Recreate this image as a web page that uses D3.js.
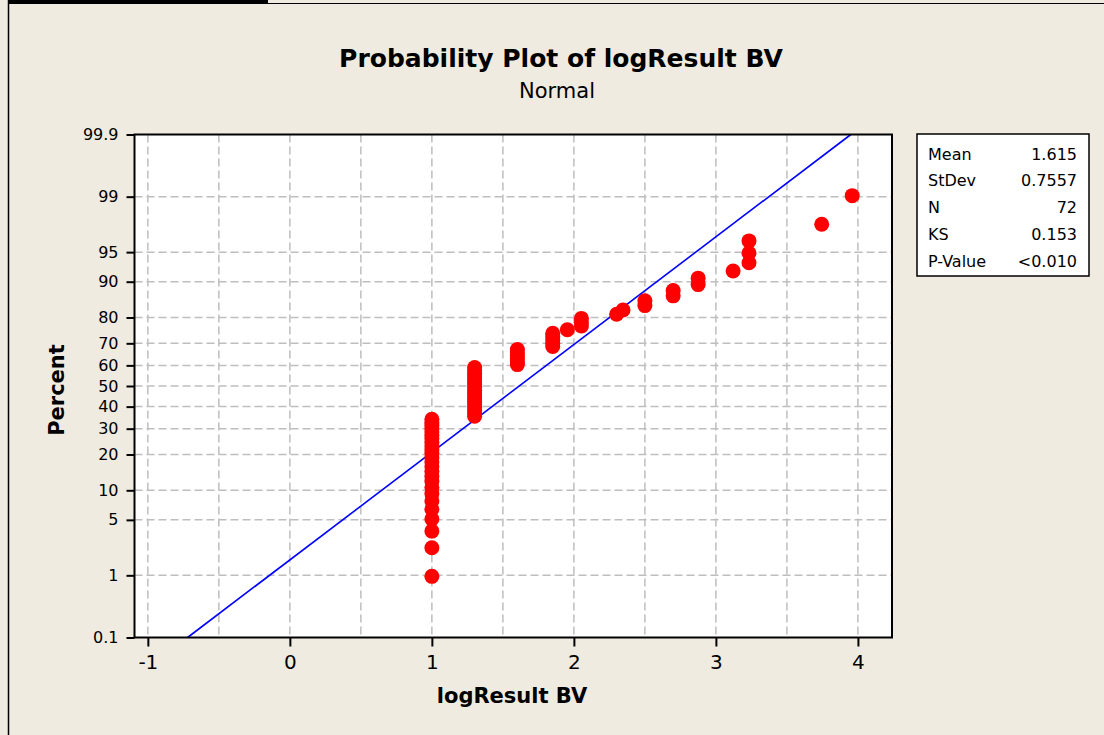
<!DOCTYPE html>
<html>
<head>
<meta charset="utf-8">
<script src="https://cdn.jsdelivr.net/npm/d3@7"></script>
<style>
  html, body { margin: 0; padding: 0; background: #EFEBE1; }
  svg { display: block; }
  text { font-family: "DejaVu Sans", sans-serif; fill: #000; }
</style>
</head>
<body>
<svg id="chart" width="1104" height="735"></svg>
<script>
// ---- data: log10 of BV results (sorted) and their median-rank plotting percentages ----
const logValues = [
  1, 1, 1, 1, 1, 1, 1, 1, 1, 1, 1, 1, 1, 1, 1, 1, 1, 1, 1, 1, 1, 1, 1, 1, 1,
  1.301, 1.301, 1.301, 1.301, 1.301, 1.301, 1.301, 1.301, 1.301, 1.301, 1.301, 1.301,
  1.301, 1.301, 1.301, 1.301, 1.301, 1.301,
  1.602, 1.602, 1.602, 1.602, 1.602, 1.602,
  1.851, 1.851, 1.851, 1.851, 1.851,
  1.954,
  2.053, 2.053, 2.053,
  2.301, 2.346,
  2.5, 2.5,
  2.699, 2.699,
  2.875, 2.875,
  3.121,
  3.233, 3.233, 3.233,
  3.745,
  3.96
];
const percents = [
  0.967, 2.348, 3.729, 5.110, 6.492, 7.873, 9.254, 10.635, 12.017, 13.398,
  14.779, 16.160, 17.541, 18.923, 20.304, 21.685, 23.066, 24.448, 25.829, 27.210,
  28.591, 29.972, 31.354, 32.735, 34.116, 35.497, 36.878, 38.260, 39.641, 41.022,
  42.403, 43.785, 45.166, 46.547, 47.928, 49.309, 50.691, 52.072, 53.453, 54.834,
  56.215, 57.597, 58.978, 60.359, 61.740, 63.122, 64.503, 65.884, 67.265, 68.646,
  70.028, 71.409, 72.790, 74.171, 75.552, 76.934, 78.315, 79.696, 81.077, 82.459,
  83.840, 85.221, 86.602, 87.983, 89.365, 90.746, 92.127, 93.508, 94.890, 96.271,
  97.652, 99.033
];

// summary statistics of the normal fit
const statLabels = ["Mean", "StDev", "N", "KS", "P-Value"];
const statValues = ["1.615", "0.7557", "72", "0.153", "<0.010"];
const fitMean = 1.615;
const fitStDev = 0.7557;

// axis ticks
const xTicks = [-1, 0, 1, 2, 3, 4];
const xGrid = [-1, -0.5, 0, 0.5, 1, 1.5, 2, 2.5, 3, 3.5, 4];
const yTicks = [0.1, 1, 5, 10, 20, 30, 40, 50, 60, 70, 80, 90, 95, 99, 99.9];
const yGrid = [1, 5, 10, 20, 30, 40, 50, 60, 70, 80, 90, 95, 99];

// ---- inverse standard normal CDF (Acklam) ----
function probit(p) {
  const a = [-3.969683028665376e+01, 2.209460984245205e+02, -2.759285104469687e+02,
             1.383577518672690e+02, -3.066479806614716e+01, 2.506628277459239e+00];
  const b = [-5.447609879822406e+01, 1.615858368580409e+02, -1.556989798598866e+02,
             6.680131188771972e+01, -1.328068155288572e+01];
  const c = [-7.784894002430293e-03, -3.223964580411365e-01, -2.400758277161838e+00,
             -2.549732539343734e+00, 4.374664141464968e+00, 2.938163982698783e+00];
  const d = [7.784695709041462e-03, 3.224671290700398e-01, 2.445134137142996e+00,
             3.754408661907416e+00];
  const pLow = 0.02425, pHigh = 1 - pLow;
  let q, r;
  if (p < pLow) {
    q = Math.sqrt(-2 * Math.log(p));
    return (((((c[0]*q+c[1])*q+c[2])*q+c[3])*q+c[4])*q+c[5]) /
           ((((d[0]*q+d[1])*q+d[2])*q+d[3])*q+1);
  } else if (p <= pHigh) {
    q = p - 0.5; r = q * q;
    return (((((a[0]*r+a[1])*r+a[2])*r+a[3])*r+a[4])*r+a[5])*q /
           (((((b[0]*r+b[1])*r+b[2])*r+b[3])*r+b[4])*r+1);
  } else {
    q = Math.sqrt(-2 * Math.log(1 - p));
    return -(((((c[0]*q+c[1])*q+c[2])*q+c[3])*q+c[4])*q+c[5]) /
            ((((d[0]*q+d[1])*q+d[2])*q+d[3])*q+1);
  }
}

const svg = d3.select("#chart");

// plot frame geometry
const plot = { left: 134.5, right: 892, top: 134.5, bottom: 637.5 };

const x = d3.scaleLinear().domain([-1.094, 4.24]).range([plot.left, plot.right]);
const zScale = d3.scaleLinear()
  .domain([probit(0.001), probit(0.999)])
  .range([plot.bottom, plot.top]);
const y = pct => zScale(probit(pct / 100));

// window frame
svg.append("rect").attr("x", 8).attr("y", 0).attr("width", 260).attr("height", 4).attr("fill", "#000");
svg.append("line").attr("x1", 268).attr("x2", 1104).attr("y1", 3.5).attr("y2", 3.5)
  .attr("stroke", "#000").attr("stroke-width", 1);
svg.append("line").attr("x1", 8.5).attr("x2", 8.5).attr("y1", 0).attr("y2", 735)
  .attr("stroke", "#000").attr("stroke-width", 1.5);

// plot background
svg.append("rect")
  .attr("x", plot.left).attr("y", plot.top)
  .attr("width", plot.right - plot.left).attr("height", plot.bottom - plot.top)
  .attr("fill", "#fff");

// grid
const grid = svg.append("g")
  .attr("stroke", "#BEBEBE").attr("stroke-width", 1.5).attr("stroke-dasharray", "8,4");
grid.selectAll("line.v").data(xGrid).join("line")
  .attr("class", "v")
  .attr("x1", d => x(d)).attr("x2", d => x(d))
  .attr("y1", plot.top).attr("y2", plot.bottom);
grid.selectAll("line.h").data(yGrid).join("line")
  .attr("class", "h")
  .attr("x1", plot.left).attr("x2", plot.right)
  .attr("y1", d => y(d)).attr("y2", d => y(d));

// fitted normal line, from the 0.1th to the 99.9th percentile
const fitPoints = [0.1, 99.9].map(p => ({ x: fitMean + fitStDev * probit(p / 100), p }));
svg.append("path")
  .datum(fitPoints)
  .attr("fill", "none").attr("stroke", "#0000FF").attr("stroke-width", 1.6)
  .attr("d", d3.line().x(d => x(d.x)).y(d => y(d.p)));

// data points
svg.append("g").selectAll("circle")
  .data(logValues.map((v, i) => ({ v, p: percents[i] })))
  .join("circle")
  .attr("cx", d => x(d.v)).attr("cy", d => y(d.p))
  .attr("r", 7.5).attr("fill", "#FF0000");

// plot border
svg.append("rect")
  .attr("x", plot.left).attr("y", plot.top)
  .attr("width", plot.right - plot.left).attr("height", plot.bottom - plot.top)
  .attr("fill", "none").attr("stroke", "#000").attr("stroke-width", 2);

// axes
const xAxis = d3.axisBottom(x).tickValues(xTicks).tickSize(9).tickPadding(8)
  .tickFormat(d => String(d));
const gx = svg.append("g").attr("transform", `translate(0,${plot.bottom})`).call(xAxis);
gx.select(".domain").remove();
gx.selectAll(".tick line").attr("stroke", "#000").attr("stroke-width", 2);
gx.selectAll(".tick text").attr("font-size", 20).attr("font-family", "DejaVu Sans").attr("fill", "#000");

const yAxis = d3.axisLeft(zScale)
  .tickValues(yTicks.map(p => probit(p / 100)))
  .tickSize(8).tickPadding(8)
  .tickFormat((d, i) => String(yTicks[i]));
const gy = svg.append("g").attr("transform", `translate(${plot.left},0)`).call(yAxis);
gy.select(".domain").remove();
gy.selectAll(".tick line").attr("stroke", "#000").attr("stroke-width", 2);
gy.selectAll(".tick text").attr("font-size", 16).attr("font-family", "DejaVu Sans").attr("fill", "#000");

// titles
svg.append("text").attr("x", 561).attr("y", 67).attr("text-anchor", "middle")
  .attr("font-size", 25).attr("font-weight", "bold")
  .text("Probability Plot of logResult BV");
svg.append("text").attr("x", 557).attr("y", 98).attr("text-anchor", "middle")
  .attr("font-size", 21).text("Normal");
svg.append("text").attr("x", 512).attr("y", 703).attr("text-anchor", "middle")
  .attr("font-size", 21).attr("font-weight", "bold").text("logResult BV");
svg.append("text").attr("transform", "translate(64,390) rotate(-90)")
  .attr("text-anchor", "middle").attr("font-size", 21).attr("font-weight", "bold")
  .text("Percent");

// statistics box
const box = svg.append("g");
box.append("rect").attr("x", 917).attr("y", 134).attr("width", 172).attr("height", 142)
  .attr("fill", "#fff").attr("stroke", "#000").attr("stroke-width", 1.5);
const rowY = d3.scalePoint().domain(statLabels).range([159.5, 266.5]);
box.selectAll("text.lab").data(statLabels).join("text")
  .attr("class", "lab").attr("x", 928).attr("y", d => rowY(d))
  .attr("font-size", 16).text(d => d);
box.selectAll("text.val").data(statValues).join("text")
  .attr("class", "val").attr("x", 1077).attr("y", (d, i) => rowY(statLabels[i]))
  .attr("text-anchor", "end").attr("font-size", 16).text(d => d);
</script>
</body>
</html>
